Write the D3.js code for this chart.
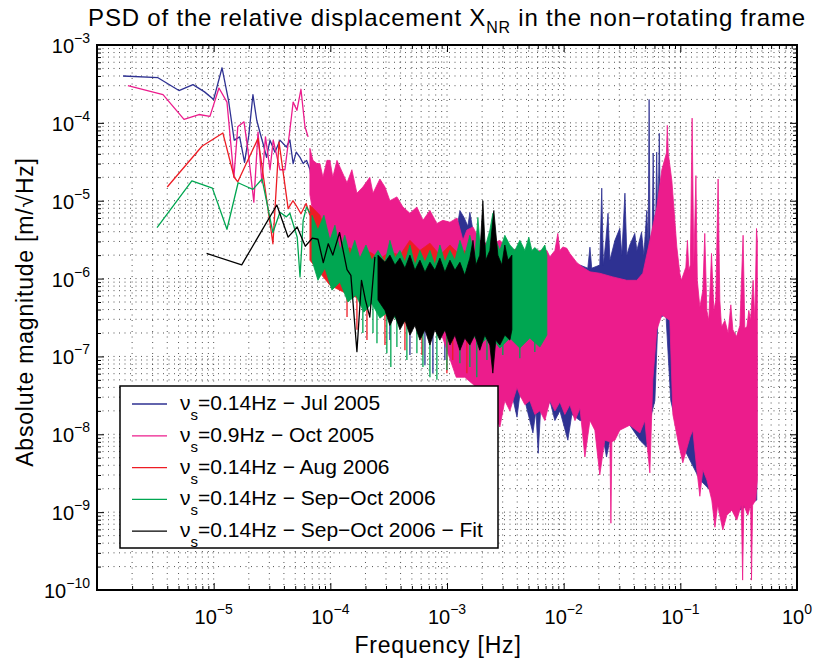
<!DOCTYPE html>
<html>
<head>
<meta charset="utf-8">
<script src="https://cdn.jsdelivr.net/npm/d3@7"></script>
<style>
body { margin: 0; background: #fff; }
text { font-family: "Liberation Sans", Arial, Helvetica, sans-serif; fill: #000; }
</style>
</head>
<body>
<script>
const w = 817;
const h = 663;
const plotL = 97, plotR = 797, plotT = 45, plotB = 590;

// ---- data (frequency in Hz, magnitude in m/sqrt(Hz)) ----
// sparse low-frequency parts
const blueLineF = [1.67e-6,3.33e-6,5.04e-6,6.65e-6,8.35e-6,1.0e-5,1.18e-5,1.34e-5,1.5e-5,1.67e-5,1.84e-5,2.0e-5,2.17e-5,2.34e-5,2.5e-5,2.67e-5,2.84e-5,3.04e-5,3.35e-5,3.7e-5,4.2e-5,4.5e-5,4.8e-5,5.1e-5,5.5e-5,5.85e-5,6.25e-5,6.7e-5,7.1e-5];
const blueLineV = [4.0e-4,3.8e-4,2.6e-4,3.1e-4,2.5e-4,2.0e-4,5.1e-4,1.95e-4,6.0e-5,6.6e-5,3.1e-5,6.9e-5,2.3e-4,1.08e-4,7.4e-5,5.2e-5,3.6e-5,6.0e-5,4.2e-5,6.0e-5,4.9e-5,6.0e-5,3.0e-5,4.2e-5,3.6e-5,3.0e-5,3.3e-5,2.5e-5,1.25e-5];

const magLineF = [1.84e-6,3.68e-6,5.57e-6,7.48e-6,9.29e-6,1.11e-5,1.3e-5,1.49e-5,1.61e-5,1.82e-5,1.97e-5,2.21e-5,2.4e-5,2.59e-5,2.78e-5,3.04e-5,3.24e-5,3.7e-5,4.08e-5,4.57e-5,4.8e-5,5.17e-5,5.6e-5,6.06e-5,6.45e-5];
const magLineV = [3.0e-4,2.3e-4,1.11e-4,1.28e-4,1.21e-4,2.8e-4,1.85e-4,2.0e-5,8.9e-5,1.03e-4,4.4e-5,9.6e-6,7.6e-5,1.7e-5,6.6e-5,2.5e-5,6.0e-5,2.5e-5,2.5e-5,9.8e-5,1.85e-4,1.45e-4,2.7e-4,8.9e-5,6.6e-5];

const redLineF = [4.0e-6,7.94e-6,1.2e-5,1.5e-5,1.61e-5,2.4e-5,3.22e-5,3.63e-5,4.35e-5,4.78e-5,5.07e-5,5.6e-5,6.2e-5,6.68e-5];
const redLineV = [1.5e-5,5.0e-5,7.4e-5,2.0e-5,1.75e-5,6.3e-5,2.8e-6,5.7e-5,7.9e-6,1.0e-5,8.8e-6,6.8e-6,9.2e-6,6.5e-6];

const greenLineF = [3.27e-6,6.5e-6,9.75e-6,1.3e-5,1.62e-5,1.95e-5,2.17e-5,2.6e-5,3.22e-5,3.7e-5,4.2e-5,4.5e-5,5.2e-5,5.5e-5,5.85e-5,6.25e-5,6.7e-5];
const greenLineV = [4.5e-6,1.8e-5,1.45e-5,4.3e-6,1.7e-5,1.5e-5,1.4e-5,1.9e-5,3.9e-6,7.1e-6,6.2e-6,6.9e-6,3.4e-6,1.05e-6,5.6e-6,8.3e-6,6.9e-6];

const blackLineF = [8.7e-6,1.74e-5,2.6e-5,3.48e-5,4.35e-5,5.2e-5,6.1e-5,7.0e-5,7.83e-5,8.7e-5,9.6e-5,1.05e-4,1.2e-4,1.39e-4,1.5e-4,1.69e-4,1.85e-4,2.0e-4,2.18e-4,2.41e-4];
const blackLineV = [2.1e-6,1.5e-6,4.2e-6,8.8e-6,3.4e-6,4.6e-6,2.6e-6,3.3e-6,3.2e-6,1.6e-6,2.8e-6,2.0e-6,3.9e-6,1.3e-6,1.1e-6,1.15e-7,9.5e-7,5.3e-7,3.2e-7,1.9e-6];

// dense parts: upper and lower envelope of the noise, plus single deep spikes
const blueHiF = [7.1e-5,8.15e-5,9.35e-5,1.095e-4,1.33e-4,1.79e-4,2.66e-4,3.95e-4,5.86e-4,8.69e-4,1.1e-3,1.19e-3,1.29e-3,1.4e-3,1.51e-3,1.57e-3,1.73e-3,2.33e-3,3.46e-3,5.13e-3,8.41e-3,9.28e-3,1.13e-2,1.38e-2,1.61e-2,1.68e-2,1.74e-2,2.04e-2,2.12e-2,2.19e-2,2.3e-2,2.4e-2,2.49e-2,2.75e-2,3.03e-2,3.15e-2,3.35e-2,3.48e-2,3.69e-2,4.07e-2,4.24e-2,4.65e-2,4.87e-2,5.16e-2,5.3e-2,5.4e-2,5.5e-2,5.74e-2,5.85e-2,5.97e-2,6.15e-2,6.27e-2,6.39e-2,6.47e-2,6.6e-2,6.73e-2,7.37e-2,8.13e-2,9.9e-2,0.147,0.218,0.452];
const blueHiV = [2.5e-5,1.58e-5,1.5e-5,1.18e-5,8.8e-6,6.5e-6,4.85e-6,4.2e-6,3.6e-6,3.1e-6,4.85e-6,3.6e-6,7.5e-6,6.1e-6,4.7e-6,7.1e-6,3.1e-6,2.3e-6,2.0e-6,1.83e-6,1.49e-6,1.62e-6,1.28e-6,1.49e-6,1.36e-6,2.53e-6,1.36e-6,1.49e-6,1.45e-5,1.49e-6,3.1e-6,6.9e-6,1.72e-6,3.1e-6,4.43e-6,2.0e-6,1.25e-5,2.0e-6,2.7e-6,3.8e-6,2.3e-6,3.94e-6,2.0e-6,7.5e-6,2.5e-6,2.0e-4,3.0e-6,4.0e-6,4.1e-5,5.0e-6,6.0e-6,4.2e-5,7.0e-6,8.0e-6,7.35e-5,1.0e-5,5.6e-6,2.3e-6,8.2e-7,2.9e-7,1.62e-7,1.62e-7];
const blueLoF = [7.1e-5,9.92e-5,1.79e-4,3.95e-4,8.69e-4,1.57e-3,1.91e-3,2.33e-3,2.57e-3,2.84e-3,3.13e-3,3.46e-3,3.98e-3,4.21e-3,4.65e-3,5.45e-3,5.78e-3,6.05e-3,6.38e-3,6.9e-3,7.62e-3,8.41e-3,9.28e-3,1.086e-2,1.175e-2,1.38e-2,1.68e-2,2.04e-2,2.33e-2,2.59e-2,3.03e-2,3.69e-2,4.5e-2,5.13e-2,5.48e-2,6.05e-2,6.43e-2,7.52e-2,8.28e-2,9.9e-2,0.147,0.218,0.324,0.452];
const blueLoV = [2.3e-6,1.49e-6,7.1e-7,3.9e-7,2.2e-7,1.62e-7,6.7e-8,3.7e-8,5.75e-8,5.0e-8,2.7e-8,4.3e-8,1.66e-8,3.2e-8,2.7e-8,1.04e-8,2.0e-8,5.7e-9,2.4e-8,1.8e-8,2.7e-8,1.5e-8,2.0e-8,8.4e-9,1.8e-8,1.5e-8,1.5e-8,1.5e-8,5.1e-9,1.13e-8,1.5e-8,1.31e-8,8.4e-9,6.85e-9,1.5e-8,2.7e-8,3.0e-7,3.5e-7,2.7e-8,8.4e-9,2.6e-9,1.43e-9,1.06e-9,1.43e-9];
const blueSpikeF = [3.24e-4,4.81e-4,6.47e-4,7.57e-4,9.59e-4,1.22e-3];
const blueSpikeV = [1.62e-7,1.04e-7,7.7e-8,6.1e-8,9.0e-8,8.2e-8];

const magHiF = [6.68e-5,7.1e-5,7.68e-5,8.15e-5,8.64e-5,9.35e-5,9.92e-5,1.05e-4,1.14e-4,1.21e-4,1.39e-4,1.53e-4,1.69e-4,1.9e-4,2.18e-4,2.32e-4,2.66e-4,2.94e-4,3.24e-4,3.72e-4,4.19e-4,4.81e-4,5.52e-4,6.22e-4,7.14e-4,8.19e-4,9.22e-4,1.06e-3,1.22e-3,1.37e-3,1.48e-3,1.67e-3,1.91e-3,2.33e-3,2.84e-3,3.46e-3,4.21e-3,5.13e-3,6.25e-3,7.18e-3,7.62e-3,8.41e-3,8.91e-3,9.28e-3,9.84e-3,1.064e-2,1.13e-2,1.3e-2,1.46e-2,1.68e-2,2.04e-2,2.64e-2,3.48e-2,4.24e-2,4.77e-2,5.48e-2,6.29e-2,6.94e-2,7.6e-2,7.73e-2,7.88e-2,8.46e-2,9.33e-2,9.9e-2,0.102,0.1115,0.115,0.1183,0.1218,0.1262,0.1305,0.136,0.1398,0.147,0.156,0.162,0.1687,0.1754,0.185,0.1937,0.2014,0.2108,0.218,0.2254,0.241,0.2568,0.2709,0.282,0.3031,0.324,0.3451,0.357,0.372,0.3864,0.40,0.4206,0.435,0.4498,0.457];
const magHiV = [4.7e-5,3.3e-5,3.0e-5,3.0e-5,2.0e-5,3.3e-5,3.3e-5,2.0e-5,3.3e-5,2.7e-5,1.7e-5,2.5e-5,1.25e-5,1.5e-5,2.0e-5,1.25e-5,1.9e-5,1.5e-5,1.0e-5,1.12e-5,8.3e-6,6.9e-6,8.3e-6,5.6e-6,7.5e-6,5.1e-6,5.6e-6,5.3e-6,6.0e-6,3.1e-6,4.2e-6,4.6e-6,3.1e-6,2.7e-6,3.1e-6,2.3e-6,2.45e-6,2.0e-6,2.3e-6,2.3e-6,1.9e-6,2.3e-6,3.8e-6,2.3e-6,2.55e-6,2.45e-6,2.1e-6,1.6e-6,1.4e-6,1.22e-6,1.17e-6,1.05e-6,9.5e-7,9.5e-7,1.17e-6,3.1e-6,8.3e-6,2.5e-5,4.1e-5,9.3e-5,4.1e-5,1.8e-5,2.55e-6,1.17e-6,9.5e-7,1.4e-6,3.1e-6,1.28e-6,1.49e-6,1.15e-4,1.49e-6,2.1e-5,9.5e-7,4.3e-7,7.1e-7,3.8e-6,3.9e-7,2.9e-7,2.1e-6,3.9e-7,5.3e-7,1.9e-5,5.3e-7,2.4e-7,2.9e-7,2.0e-7,4.6e-7,2.2e-7,1.8e-7,2.5e-7,3.6e-6,2.3e-7,2.4e-7,3.9e-7,2.9e-7,9.5e-7,2.9e-7,4.4e-6,3.1e-6];
const magLoF = [6.68e-5,7.5e-5,9.92e-5,1.47e-4,2.66e-4,3.95e-4,5.86e-4,8.69e-4,1.2e-3,1.42e-3,1.91e-3,2.33e-3,2.84e-3,3.13e-3,3.46e-3,3.98e-3,4.21e-3,4.65e-3,5.13e-3,5.66e-3,6.25e-3,6.9e-3,7.62e-3,8.41e-3,9.28e-3,1.024e-2,1.13e-2,1.25e-2,1.38e-2,1.52e-2,1.68e-2,1.85e-2,2.04e-2,2.25e-2,2.49e-2,2.54e-2,2.59e-2,2.75e-2,3.03e-2,3.69e-2,4.5e-2,4.96e-2,5.48e-2,5.81e-2,6.29e-2,6.94e-2,7.66e-2,8.13e-2,8.63e-2,9.52e-2,0.105,0.121,0.128,0.1385,0.147,0.156,0.169,0.186,0.198,0.209,0.2313,0.2503,0.2763,0.305,0.3332,0.342,0.35,0.379,0.4004,0.4075,0.4165,0.443,0.457];
const magLoV = [1.2e-5,4.2e-6,2.7e-6,1.7e-6,1.1e-6,7.1e-7,4.6e-7,2.2e-7,5.4e-8,5.4e-8,3.7e-8,2.7e-8,1.24e-8,2.7e-8,2.0e-8,4.0e-8,3.2e-8,2.4e-8,2.7e-8,1.8e-8,2.0e-8,1.5e-8,2.7e-8,2.0e-8,2.6e-8,1.8e-8,2.4e-8,1.5e-8,2.17e-8,5.1e-9,1.5e-8,1.13e-8,3.0e-9,8.4e-9,8.0e-9,7.2e-10,8.0e-9,8.4e-9,1.13e-8,1.31e-8,1.04e-8,1.5e-8,3.2e-9,5.0e-8,2.2e-7,3.4e-7,3.1e-7,2.9e-7,1.8e-8,8.4e-9,4.3e-9,9.2e-9,1.13e-8,3.5e-9,1.6e-9,3.5e-9,2.58e-9,1.43e-9,6.4e-10,1.23e-9,5.9e-10,9.1e-10,1.06e-9,7.9e-10,1.23e-9,1.34e-10,1.23e-9,9.1e-10,1.23e-9,1.34e-10,1.23e-9,1.43e-9,2.58e-9];

const redHiF = [6.68e-5,8.15e-5,9.92e-5,1.21e-4,1.47e-4,1.79e-4,2.18e-4,2.66e-4,3.24e-4,3.95e-4,4.81e-4,5.86e-4,7.14e-4,8.69e-4,1.06e-3,1.29e-3,1.42e-3,1.57e-3,1.73e-3];
const redHiV = [8.8e-6,6.5e-6,3.0e-6,2.0e-6,2.5e-6,1.8e-6,2.2e-6,1.8e-6,2.2e-6,2.0e-6,3.1e-6,2.3e-6,2.85e-6,2.0e-6,2.7e-6,2.0e-6,2.3e-6,1.72e-6,1.1e-6];
const redLoF = [6.68e-5,9.92e-5,1.47e-4,2.66e-4,4.81e-4,8.69e-4,1.29e-3,1.73e-3];
const redLoV = [1.72e-6,8.2e-7,6.1e-7,4.6e-7,3.7e-7,3.1e-7,3.9e-7,7.1e-7];
const redSpikeF = [1.39e-4,1.69e-4,2.06e-4,2.94e-4,4.36e-4,6.1e-4,9.98e-4,1.12e-3,1.48e-3];
const redSpikeV = [3.2e-7,2.2e-7,1.62e-7,1.4e-7,1.2e-7,1.04e-7,6.1e-8,9.0e-8,6.1e-8];

const greenHiF = [6.96e-5,7.83e-5,8.81e-5,9.92e-5,1.095e-4,1.21e-4,1.33e-4,1.47e-4,1.62e-4,1.79e-4,2.02e-4,2.27e-4,2.56e-4,2.94e-4,3.24e-4,3.58e-4,3.95e-4,4.36e-4,4.81e-4,5.31e-4,5.86e-4,6.47e-4,7.14e-4,7.88e-4,8.69e-4,9.59e-4,1.06e-3,1.17e-3,1.29e-3,1.42e-3,1.57e-3,1.73e-3,1.84e-3,1.95e-3,2.15e-3,2.33e-3,2.47e-3,2.62e-3,2.84e-3,3.13e-3,3.46e-3,3.82e-3,4.21e-3,4.65e-3,5.03e-3,5.34e-3,5.66e-3,6.25e-3,6.9e-3,7.18e-3];
const greenHiV = [6.5e-6,4.2e-6,6.5e-6,3.1e-6,4.85e-6,2.3e-6,3.6e-6,2.0e-6,3.1e-6,1.83e-6,2.7e-6,1.72e-6,2.3e-6,1.62e-6,3.1e-6,1.83e-6,2.3e-6,1.62e-6,2.7e-6,1.49e-6,2.3e-6,1.62e-6,2.3e-6,1.49e-6,2.7e-6,1.62e-6,2.3e-6,1.72e-6,3.1e-6,2.0e-6,3.6e-6,1.83e-6,6.1e-6,2.0e-6,2.7e-6,4.2e-6,6.9e-6,3.1e-6,2.3e-6,3.6e-6,2.7e-6,2.3e-6,3.1e-6,2.3e-6,3.4e-6,2.3e-6,2.5e-6,2.18e-6,2.7e-6,2.0e-6];
const greenLoF = [6.96e-5,7.83e-5,8.99e-5,1.032e-4,1.21e-4,1.415e-4,1.657e-4,1.94e-4,2.27e-4,2.66e-4,3.24e-4,3.95e-4,4.81e-4,5.86e-4,7.14e-4,8.69e-4,1.06e-3,1.29e-3,1.57e-3,1.91e-3,2.33e-3,2.84e-3,3.46e-3,4.21e-3,5.13e-3,6.25e-3,7.18e-3];
const greenLoV = [1.72e-6,9.5e-7,1.36e-6,7.1e-7,9.0e-7,5.0e-7,6.1e-7,3.7e-7,4.8e-7,3.1e-7,3.9e-7,2.5e-7,3.3e-7,2.2e-7,2.9e-7,1.88e-7,2.45e-7,1.62e-7,2.2e-7,1.4e-7,1.88e-7,1.28e-7,1.72e-7,1.28e-7,1.72e-7,1.32e-7,1.88e-7];
const greenSpikeF = [1.9e-4,2.32e-4,2.51e-4,3.05e-4,3.3e-4,3.72e-4,4.53e-4,5.52e-4,6.22e-4,7.14e-4,8.19e-4,9.98e-4,1.29e-3,1.57e-3,1.8e-3,2.2e-3,3.01e-3,4.21e-3,5.66e-3];
const greenSpikeV = [2.0e-7,2.0e-7,1.48e-7,1.1e-7,7.3e-8,1.32e-7,9.0e-8,1.1e-7,7.3e-8,5.4e-8,5.0e-8,6.7e-8,8.2e-8,7.3e-8,5.4e-8,9.0e-8,1.04e-7,9.5e-8,1.14e-7];

const blackHiF = [2.56e-4,2.94e-4,3.24e-4,3.58e-4,3.95e-4,4.36e-4,4.81e-4,5.31e-4,5.86e-4,6.47e-4,7.14e-4,7.88e-4,8.69e-4,9.59e-4,1.06e-3,1.17e-3,1.29e-3,1.42e-3,1.57e-3,1.67e-3,1.77e-3,1.91e-3,2.03e-3,2.15e-3,2.33e-3,2.52e-3,2.73e-3,2.95e-3,3.13e-3,3.33e-3,3.6e-3];
const blackHiV = [2.0e-6,1.62e-6,2.0e-6,1.49e-6,1.83e-6,1.36e-6,2.0e-6,1.28e-6,1.72e-6,1.21e-6,1.62e-6,1.28e-6,1.83e-6,1.21e-6,1.72e-6,1.28e-6,1.62e-6,1.1e-6,1.83e-6,3.1e-6,1.49e-6,2.0e-6,1.0e-5,1.72e-6,2.3e-6,7.5e-6,2.0e-6,1.49e-6,2.7e-6,1.72e-6,2.0e-6];
const blackLoF = [2.56e-4,2.94e-4,3.24e-4,3.58e-4,3.95e-4,4.36e-4,4.81e-4,5.31e-4,5.86e-4,6.47e-4,7.14e-4,7.88e-4,8.69e-4,9.59e-4,1.06e-3,1.17e-3,1.29e-3,1.42e-3,1.57e-3,1.73e-3,1.91e-3,2.11e-3,2.33e-3,2.47e-3,2.62e-3,2.84e-3,3.13e-3,3.46e-3,3.6e-3];
const blackLoV = [5.3e-7,3.9e-7,2.5e-7,3.4e-7,2.2e-7,2.9e-7,1.88e-7,2.5e-7,1.62e-7,2.2e-7,1.4e-7,2.2e-7,1.62e-7,2.2e-7,1.4e-7,1.88e-7,1.2e-7,1.72e-7,1.4e-7,1.88e-7,1.2e-7,1.88e-7,1.4e-7,6.1e-8,1.62e-7,1.4e-7,1.88e-7,1.62e-7,2.2e-7];

const legendLabels = ["=0.14Hz \u2212 Jul 2005", "=0.9Hz \u2212 Oct 2005", "=0.14Hz \u2212 Aug 2006",
                      "=0.14Hz \u2212 Sep\u2212Oct 2006", "=0.14Hz \u2212 Sep\u2212Oct 2006 \u2212 Fit"];
const seriesColors = ["#2e3192", "#ec1c8c", "#ed1c24", "#00a651", "#000000"];

// drawing order as in the original: blue, magenta, red, green, black
const series = [
  {lineF: blueLineF,  lineV: blueLineV,  hiF: blueHiF,  hiV: blueHiV,  loF: blueLoF,  loV: blueLoV,  spF: blueSpikeF,  spV: blueSpikeV},
  {lineF: magLineF,   lineV: magLineV,   hiF: magHiF,   hiV: magHiV,   loF: magLoF,   loV: magLoV,   spF: [],          spV: []},
  {lineF: redLineF,   lineV: redLineV,   hiF: redHiF,   hiV: redHiV,   loF: redLoF,   loV: redLoV,   spF: redSpikeF,   spV: redSpikeV},
  {lineF: greenLineF, lineV: greenLineV, hiF: greenHiF, hiV: greenHiV, loF: greenLoF, loV: greenLoV, spF: greenSpikeF, spV: greenSpikeV},
  {lineF: blackLineF, lineV: blackLineV, hiF: blackHiF, hiV: blackHiV, loF: blackLoF, loV: blackLoV, spF: [],          spV: []}
];

const xScale = d3.scaleLog().domain([1e-6, 1]).range([plotL, plotR]);
const yScale = d3.scaleLog().domain([1e-10, 1e-3]).range([plotB, plotT]);

const svg = d3.select("body")
  .append("svg")
  .attr("width", w)
  .attr("height", h);

const isMajor = t => Math.abs(Math.log10(t) - Math.round(Math.log10(t))) < 1e-6;
const xTicks = xScale.ticks();
const yTicks = yScale.ticks();

// dotted grid
const grid = svg.append("g")
  .attr("stroke", "#000")
  .attr("stroke-width", 0.9)
  .attr("stroke-dasharray", "1,4.5")
  .attr("opacity", 0.75);

grid.selectAll(".gx")
  .data(xTicks.filter(t => t > 1e-6 && t < 1))
  .enter().append("line")
  .attr("x1", d => xScale(d)).attr("x2", d => xScale(d))
  .attr("y1", plotT).attr("y2", plotB);

grid.selectAll(".gy")
  .data(yTicks.filter(t => t > 1e-10 && t < 1e-3))
  .enter().append("line")
  .attr("y1", d => yScale(d)).attr("y2", d => yScale(d))
  .attr("x1", plotL).attr("x2", plotR);

// data
svg.append("clipPath").attr("id", "clip")
  .append("rect").attr("x", plotL).attr("y", plotT)
  .attr("width", plotR - plotL).attr("height", plotB - plotT);

const plot = svg.append("g").attr("clip-path", "url(#clip)");
const line = d3.line().x(d => xScale(d[0])).y(d => yScale(d[1]));

series.forEach((s, i) => {
  const c = seriesColors[i];
  // deep single spikes hang from the lower edge of the noise band
  const loEdge = d3.scaleLog().domain(s.loF).range(s.loV.map(v => yScale(v))).clamp(true);
  plot.selectAll(null)
    .data(s.spF.map((f, k) => [f, s.spV[k]]))
    .enter().append("line")
    .attr("x1", d => xScale(d[0])).attr("x2", d => xScale(d[0]))
    .attr("y1", d => loEdge(d[0]) - 2).attr("y2", d => yScale(d[1]))
    .attr("stroke", c).attr("stroke-width", 1.3);

  const hi = s.hiF.map((f, k) => [f, s.hiV[k]]);
  const lo = s.loF.map((f, k) => [f, s.loV[k]]).reverse();
  plot.append("path")
    .attr("d", line(hi.concat(lo)) + "Z")
    .attr("fill", c)
    .attr("stroke", c)
    .attr("stroke-width", 0.8)
    .attr("stroke-linejoin", "round");
  plot.append("path")
    .attr("d", line(s.lineF.map((f, k) => [f, s.lineV[k]])))
    .attr("fill", "none")
    .attr("stroke", c)
    .attr("stroke-width", 1.3)
    .attr("stroke-linejoin", "round");
});

// ticks on all four sides, pointing inward
function tickAxis(axisFn, scale, vals, size, transform) {
  const g = svg.append("g")
    .attr("transform", transform)
    .call(axisFn(scale).tickValues(vals).tickSize(-size).tickFormat(""));
  g.select(".domain").remove();
  g.selectAll("line").attr("stroke", "#000").attr("stroke-width", 1);
}
const xMaj = xTicks.filter(isMajor), xMin = xTicks.filter(t => !isMajor(t));
const yMaj = yTicks.filter(isMajor), yMin = yTicks.filter(t => !isMajor(t));
tickAxis(d3.axisBottom, xScale, xMaj, 7, `translate(0,${plotB})`);
tickAxis(d3.axisBottom, xScale, xMin, 4, `translate(0,${plotB})`);
tickAxis(d3.axisTop, xScale, xMaj, 7, `translate(0,${plotT})`);
tickAxis(d3.axisTop, xScale, xMin, 4, `translate(0,${plotT})`);
tickAxis(d3.axisLeft, yScale, yMaj, 7, `translate(${plotL},0)`);
tickAxis(d3.axisLeft, yScale, yMin, 4, `translate(${plotL},0)`);
tickAxis(d3.axisRight, yScale, yMaj, 7, `translate(${plotR},0)`);
tickAxis(d3.axisRight, yScale, yMin, 4, `translate(${plotR},0)`);

// frame
svg.append("rect")
  .attr("x", plotL).attr("y", plotT)
  .attr("width", plotR - plotL).attr("height", plotB - plotT)
  .attr("fill", "none").attr("stroke", "#000").attr("stroke-width", 2);

// tick labels 10^n
const expText = t => String(Math.round(Math.log10(t))).replace("-", "\u2212");

const xl = svg.selectAll(".xlab")
  .data(xMaj.filter(t => t > 1e-6))
  .enter().append("text")
  .attr("x", d => xScale(d))
  .attr("y", 624)
  .attr("text-anchor", "middle")
  .attr("font-size", 20);
xl.append("tspan").text("10");
xl.append("tspan").attr("dy", -10).attr("font-size", 14).text(expText);

const yl = svg.selectAll(".ylab")
  .data(yMaj)
  .enter().append("text")
  .attr("x", 90)
  .attr("y", d => yScale(d) + 8)
  .attr("text-anchor", "end")
  .attr("font-size", 20);
yl.append("tspan").text("10");
yl.append("tspan").attr("dy", -10).attr("font-size", 14).text(expText);

// titles
const title = svg.append("text")
  .attr("x", 447).attr("y", 26)
  .attr("text-anchor", "middle")
  .attr("font-size", 24)
  .attr("letter-spacing", 0.8);
title.append("tspan").text("PSD of the relative displacement X");
title.append("tspan").attr("dy", 7).attr("font-size", 16).text("NR");
title.append("tspan").attr("dy", -7).text(" in the non\u2212rotating frame");

svg.append("text")
  .attr("x", 438).attr("y", 653)
  .attr("text-anchor", "middle")
  .attr("font-size", 23)
  .attr("letter-spacing", 0.8)
  .text("Frequency [Hz]");

svg.append("text")
  .attr("transform", "translate(33,312) rotate(-90)")
  .attr("text-anchor", "middle")
  .attr("font-size", 23)
  .attr("letter-spacing", 0.8)
  .text("Absolute magnitude [m/\u221AHz]");

// legend
const legend = svg.append("g");
legend.append("rect")
  .attr("x", 120).attr("y", 386)
  .attr("width", 378).attr("height", 162)
  .attr("fill", "#fff").attr("stroke", "#000").attr("stroke-width", 1.5);

const rows = legend.selectAll(".row")
  .data(legendLabels)
  .enter().append("g")
  .attr("transform", (d, i) => `translate(0,${404 + i * 31.8})`);

rows.append("line")
  .attr("x1", 132).attr("x2", 167)
  .attr("stroke", (d, i) => seriesColors[i])
  .attr("stroke-width", 1.3);

const lt = rows.append("text")
  .attr("x", 180).attr("y", 6)
  .attr("font-size", 21);
lt.append("tspan").text("\u03BD");
lt.append("tspan").attr("dy", 10).attr("font-size", 15).text("s");
lt.append("tspan").attr("dy", -10).text(d => d);
</script>
</body>
</html>
